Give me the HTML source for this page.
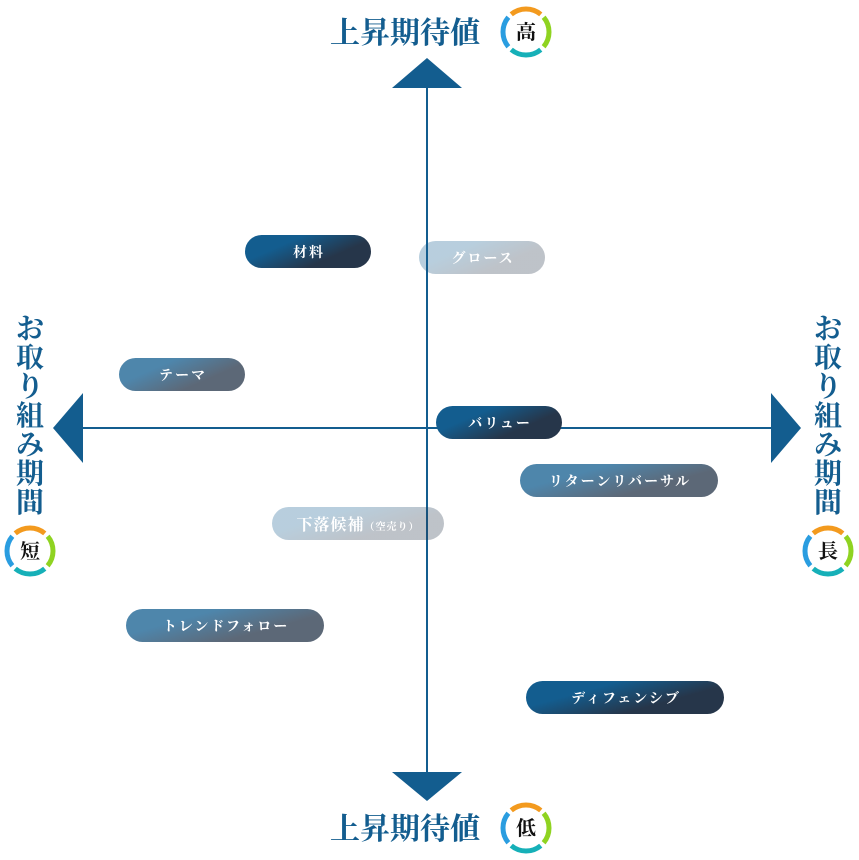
<!DOCTYPE html>
<html><head><meta charset="utf-8"><style>
html,body{margin:0;padding:0;background:#fff;}
svg{display:block;}
text{font-family:"Liberation Serif","Noto Serif CJK JP","Noto Serif CJK SC",serif;font-weight:bold;}
</style></head><body>
<svg width="859" height="860" viewBox="0 0 859 860" xmlns="http://www.w3.org/2000/svg">
<defs>
<linearGradient id="gd" x1="0" y1="0" x2="1" y2="0.6">
<stop offset="0.35" stop-color="#135d8f"/><stop offset="0.8" stop-color="#26364a"/></linearGradient>
<g id="ring">
<circle r="23" fill="#fff"/>
<circle r="23" fill="none" stroke="#f39a1e" stroke-width="5" stroke-dasharray="32 112.5" transform="rotate(-129.9)"/>
<circle r="23" fill="none" stroke="#8fd321" stroke-width="5" stroke-dasharray="32 112.5" transform="rotate(-39.9)"/>
<circle r="23" fill="none" stroke="#16b0b8" stroke-width="5" stroke-dasharray="32 112.5" transform="rotate(50.1)"/>
<circle r="23" fill="none" stroke="#2a9de0" stroke-width="5" stroke-dasharray="32 112.5" transform="rotate(140.1)"/>
</g>
</defs>
<line x1="427" y1="85" x2="427" y2="775" stroke="#135d8f" stroke-width="2"/>
<line x1="80" y1="428" x2="773" y2="428" stroke="#135d8f" stroke-width="2"/>
<polygon points="427,58 462,88 392,88" fill="#135d8f"/>
<polygon points="427,801 462,772 392,772" fill="#135d8f"/>
<polygon points="53,428 83,393 83,463" fill="#135d8f"/>
<polygon points="801,428 771,393 771,463" fill="#135d8f"/>
<text x="405" y="43" font-size="30" fill="#135d8f" text-anchor="middle">上昇期待値</text>
<text x="405" y="839" font-size="30" fill="#135d8f" text-anchor="middle">上昇期待値</text>
<g font-size="28" fill="#135d8f" text-anchor="middle">
<text x="30" y="338">お</text><text x="30" y="367">取</text><text x="30" y="396">り</text><text x="30" y="425">組</text><text x="30" y="454">み</text><text x="30" y="483">期</text><text x="30" y="512">間</text>
<text x="828" y="338">お</text><text x="828" y="367">取</text><text x="828" y="396">り</text><text x="828" y="425">組</text><text x="828" y="454">み</text><text x="828" y="483">期</text><text x="828" y="512">間</text>
</g>
<use href="#ring" x="526" y="32"/>
<use href="#ring" x="526" y="828"/>
<use href="#ring" x="30" y="551"/>
<use href="#ring" x="828" y="551"/>
<g font-size="20" fill="#111" text-anchor="middle">
<text x="526" y="39">高</text><text x="526" y="835">低</text><text x="30" y="558">短</text><text x="828" y="558">長</text>
</g>
<g font-size="14" fill="#fff" text-anchor="middle" letter-spacing="2">
<rect x="245" y="235" width="126" height="33" rx="16.5" fill="url(#gd)"/>
<text x="309" y="257">材料</text>
<rect x="419" y="241" width="126" height="33" rx="16.5" fill="url(#gd)" opacity="0.3"/>
<text x="483" y="263">グロース</text>
<rect x="119" y="358" width="126" height="33" rx="16.5" fill="url(#gd)" opacity="0.75"/>
<text x="183" y="380">テーマ</text>
<rect x="436" y="406" width="126" height="33" rx="16.5" fill="url(#gd)"/>
<text x="500" y="428">バリュー</text>
<rect x="520" y="464" width="198" height="33" rx="16.5" fill="url(#gd)" opacity="0.75"/>
<text x="620" y="486">リターンリバーサル</text>
<rect x="272" y="507" width="172" height="33" rx="16.5" fill="url(#gd)" opacity="0.3"/>
<text x="358" y="530" letter-spacing="1"><tspan font-size="16">下落候補</tspan><tspan font-size="10">（空売り）</tspan></text>
<rect x="126" y="609" width="198" height="33" rx="16.5" fill="url(#gd)" opacity="0.75"/>
<text x="226" y="631">トレンドフォロー</text>
<rect x="526" y="681" width="198" height="33" rx="16.5" fill="url(#gd)"/>
<text x="626" y="703">ディフェンシブ</text>
</g>
</svg>
</body></html>
